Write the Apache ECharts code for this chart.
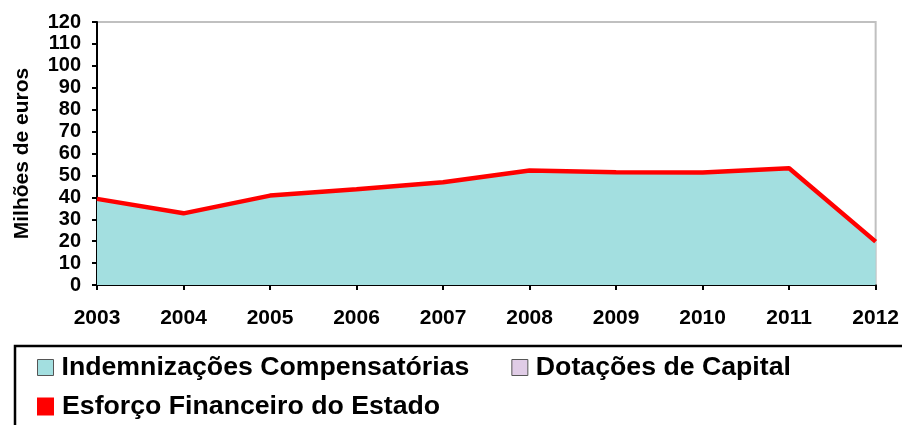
<!DOCTYPE html>
<html>
<head>
<meta charset="utf-8">
<script src="https://cdn.jsdelivr.net/npm/echarts@6/dist/echarts.min.js"></script>
<style>
html,body{margin:0;padding:0;background:#fff;}
#c{width:902px;height:425px;}
</style>
</head>
<body>
<div id="c"></div>
<script>
const years = ['2003','2004','2005','2006','2007','2008','2009','2010','2011','2012'];
const indemnizacoes = [39.3, 32.7, 40.8, 43.7, 46.9, 52.2, 51.4, 51.3, 53.3, 19.8];
const dotacoes = [0, 0, 0, 0, 0, 0, 0, 0, 0, 0];
const esforco = [39.3, 32.7, 40.8, 43.7, 46.9, 52.2, 51.4, 51.3, 53.3, 19.8];
const yMin = 0, yMax = 120, yStep = 10;
const names = ['Indemnizações Compensatórias', 'Dotações de Capital', 'Esforço Financeiro do Estado'];

const FONT = "'Liberation Sans', Arial, sans-serif";
const chart = echarts.init(document.getElementById('c'));
const legendText = {fontSize: 26.7, fontWeight: 'bold', color: '#000', fontFamily: FONT, padding: [0,0,0,3]};
chart.setOption({
  animation: false,
  backgroundColor: '#fff',
  grid: {left: 97, right: 25, top: 22, bottom: 140, show: true, borderColor: '#c0c0c0', borderWidth: 2, backgroundColor: 'transparent'},
  graphic: [{
    type: 'rect', shape: {x: 15, y: 346, width: 900, height: 100},
    style: {fill: 'none', stroke: '#000', lineWidth: 2.5}, z: 1
  }],
  legend: [{
    data: [
      {name: names[0], itemStyle: {color: '#a3dfe0', borderColor: '#555', borderWidth: 1}},
      {name: names[1], itemStyle: {color: '#e0cce6', borderColor: '#555', borderWidth: 1}}
    ],
    left: 37, top: 354, icon: 'rect', itemWidth: 16, itemHeight: 16, itemGap: 42,
    textStyle: legendText, padding: 0
  }, {
    data: [{name: names[2], itemStyle: {color: '#ff0000', borderWidth: 0}}],
    left: 37, top: 393, icon: 'rect', itemWidth: 17, itemHeight: 18,
    textStyle: legendText, padding: 0
  }],
  xAxis: {
    type: 'category', data: years, boundaryGap: false,
    axisLine: {lineStyle: {color: '#000', width: 2}},
    axisTick: {show: true, length: 5, lineStyle: {color: '#000', width: 2}},
    axisLabel: {fontSize: 21, fontWeight: 'bold', color: '#000', fontFamily: FONT, margin: 23},
    splitLine: {show: false}
  },
  yAxis: {
    type: 'value', min: yMin, max: yMax, interval: yStep,
    name: 'Milhões de euros', nameLocation: 'middle', nameGap: 64,
    nameTextStyle: {fontSize: 21, fontWeight: 'bold', color: '#000', fontFamily: FONT},
    axisLine: {show: true, lineStyle: {color: '#000', width: 2}},
    axisTick: {show: true, length: 5, lineStyle: {color: '#000', width: 2}},
    axisLabel: {fontSize: 20, fontWeight: 'bold', color: '#000', fontFamily: FONT, margin: 16},
    splitLine: {show: false}
  },
  series: [{
    name: names[0], type: 'line', stack: 'a', data: indemnizacoes,
    color: '#a3dfe0', symbol: 'none', lineStyle: {width: 0},
    areaStyle: {color: '#a3dfe0', opacity: 1}, z: 2
  }, {
    name: names[1], type: 'line', stack: 'a', data: dotacoes,
    color: '#e0cce6', symbol: 'none', lineStyle: {width: 0},
    areaStyle: {color: '#e0cce6', opacity: 1}, z: 2
  }, {
    name: names[2], type: 'line', data: esforco,
    color: '#ff0000', symbol: 'none', lineStyle: {width: 4.5, color: '#ff0000'}, z: 3
  }]
});
</script>
</body>
</html>
